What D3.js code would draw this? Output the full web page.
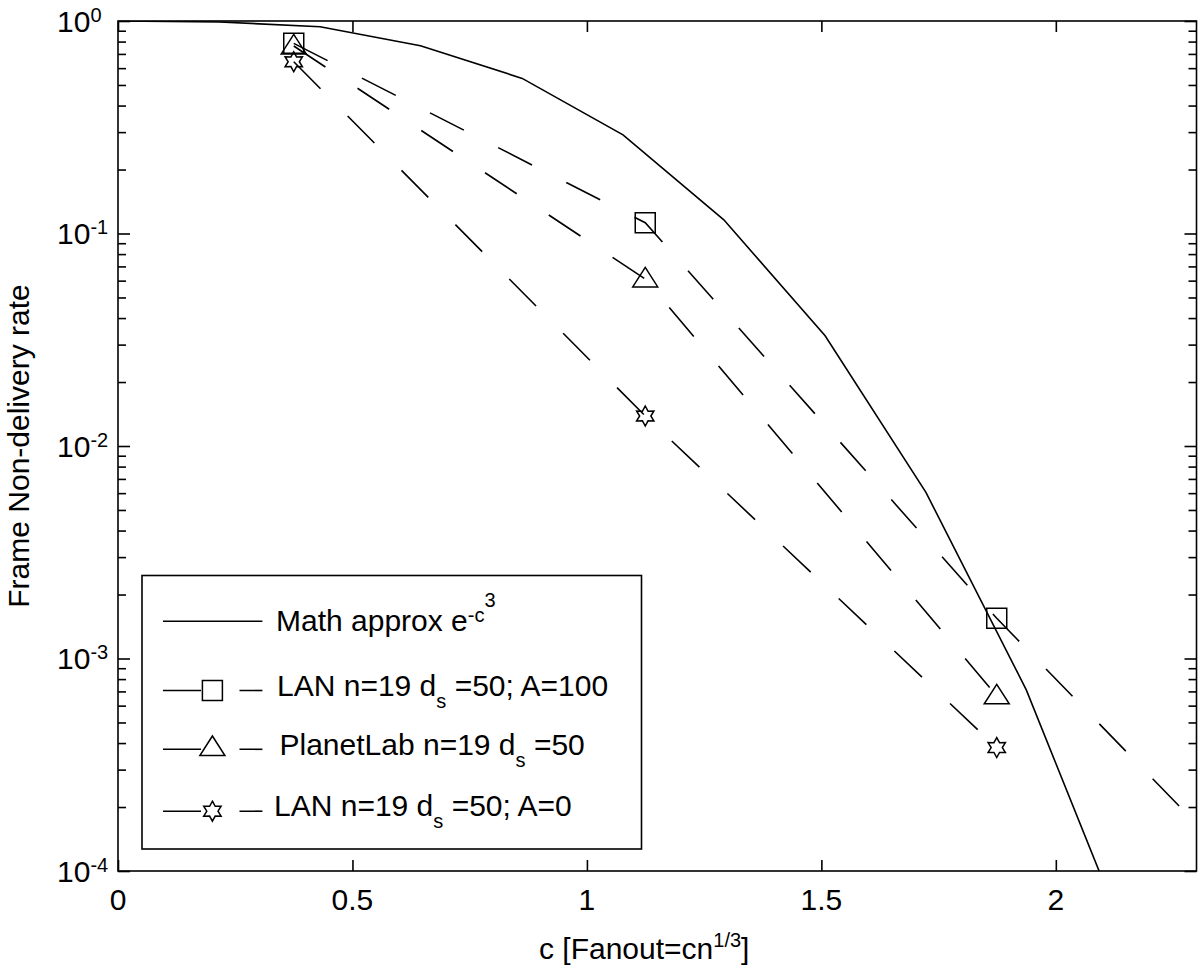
<!DOCTYPE html>
<html><head><meta charset="utf-8">
<script src="https://cdn.jsdelivr.net/npm/d3@7"></script>
<style>
body{margin:0;background:#fff}
svg{display:block}
text{font-family:"Liberation Sans",Arial,Helvetica,sans-serif;fill:#000}
</style>
</head><body>
<svg id="chart" width="1200" height="968"></svg>
<script>
// ---------- data ----------
const mathC = [0, 0.216, 0.431, 0.645, 0.862, 1.077, 1.292, 1.508, 1.723, 1.937, 2.152];
const mathRate = [1, 0.990, 0.940, 0.765, 0.537, 0.291, 0.116, 0.0330, 0.00605, 0.000712, 0.000047];
const fanoutC = [0.3748, 1.1244, 1.874, 2.6236];
const lanA100 = [0.785, 0.1124, 0.001546, 0.0000307];
const planetLab = [0.763, 0.0611, 0.000667];
const lanA0 = [0.643, 0.01384, 0.000381];
const xTickValues = [0, 0.5, 1, 1.5, 2];
const xTickLabels = ["0", "0.5", "1", "1.5", "2"];
const yTickValues = [1, 0.1, 0.01, 0.001, 0.0001];
const yTickExponents = ["0", "-1", "-2", "-3", "-4"];
const legendNames = ["Math approx e", "LAN n=19 d", "PlanetLab n=19 d", "LAN n=19 d"];
const legendTails = ["", " =50; A=100", " =50", " =50; A=0"];

// ---------- setup ----------
const svg = d3.select("#chart");
const W = 1200, H = 968;
const L = 118, R = 1196.5, T = 21, B = 871;
const FS = 30;
const x = d3.scaleLinear().domain([0, 2.3]).range([L, R]);
const y = d3.scaleLog().domain([1e-4, 1]).range([B, T]);

svg.append("rect").attr("width", W).attr("height", H).attr("fill", "#fff");
svg.append("defs").append("clipPath").attr("id", "clip")
  .append("rect").attr("x", L).attr("y", T).attr("width", R - L).attr("height", B - T);

const axisStroke = 1.6;
function styleAxis(g) {
  g.select(".domain").remove();
  g.selectAll("line").attr("stroke", "#000").attr("stroke-width", axisStroke);
  g.selectAll("text").remove();
}
// x ticks bottom & top (inward)
svg.append("g").attr("transform", `translate(0,${B})`)
  .call(d3.axisBottom(x).tickValues(xTickValues).tickSize(-11).tickFormat(""))
  .call(styleAxis);
svg.append("g").attr("transform", `translate(0,${T})`)
  .call(d3.axisTop(x).tickValues(xTickValues).tickSize(-11).tickFormat(""))
  .call(styleAxis);
// y major ticks left & right
svg.append("g").attr("transform", `translate(${L},0)`)
  .call(d3.axisLeft(y).tickValues(yTickValues).tickSize(-12).tickFormat(""))
  .call(styleAxis);
svg.append("g").attr("transform", `translate(${R},0)`)
  .call(d3.axisRight(y).tickValues(yTickValues).tickSize(-12).tickFormat(""))
  .call(styleAxis);
// y minor ticks
const minor = y.ticks().filter(v => !yTickValues.some(m => Math.abs(v - m) / m < 1e-9));
svg.append("g").attr("transform", `translate(${L},0)`)
  .call(d3.axisLeft(y).tickValues(minor).tickSize(-8).tickFormat(""))
  .call(styleAxis);
svg.append("g").attr("transform", `translate(${R},0)`)
  .call(d3.axisRight(y).tickValues(minor).tickSize(-8).tickFormat(""))
  .call(styleAxis);

// box
svg.append("rect").attr("x", L).attr("y", T).attr("width", R - L).attr("height", B - T)
  .attr("fill", "none").attr("stroke", "#000").attr("stroke-width", axisStroke);

// tick labels
svg.append("g").selectAll("text").data(xTickValues).join("text")
  .attr("x", d => x(d)).attr("y", 910).attr("text-anchor", "middle")
  .attr("font-size", FS).text((d, i) => xTickLabels[i]);

yTickValues.forEach((v, i) => {
  const t = svg.append("text").attr("x", 57).attr("y", y(v) + 10.5).attr("font-size", FS);
  t.append("tspan").text("10");
  t.append("tspan").attr("font-size", 20).attr("dy", -10).text(yTickExponents[i]);
});

// axis titles
const xt = svg.append("text").attr("x", 539).attr("y", 959).attr("font-size", FS);
xt.append("tspan").text("c [Fanout=cn");
xt.append("tspan").attr("font-size", 20).attr("dy", -12).text("1/3");
xt.append("tspan").attr("dy", 12).text("]");

svg.append("text").attr("transform", `translate(29,${(T + B) / 2}) rotate(-90)`)
  .attr("text-anchor", "middle").attr("font-size", FS).text("Frame Non-delivery rate");

// ---------- markers ----------
const squarePath = "M-10,-10H10V10H-10Z";
const trianglePath = "M0,-11.5L12.5,8L-12.5,8Z";
function hexagramPath(ro, ri) {
  const pts = [];
  for (let i = 0; i < 12; i++) {
    const a = (-90 + 30 * i) * Math.PI / 180;
    const r = i % 2 === 0 ? ro : ri;
    pts.push([r * Math.cos(a), r * Math.sin(a)]);
  }
  return "M" + pts.map(p => p[0].toFixed(2) + "," + p[1].toFixed(2)).join("L") + "Z";
}
const starPath = hexagramPath(10, 5.6);

// ---------- data layer ----------
const plot = svg.append("g").attr("clip-path", "url(#clip)");
const line = d3.line().x(d => x(d[0])).y(d => y(d[1]));
const dash = "38 38.5";
const lineW = 1.6;

plot.append("path").datum(mathC.map((c, i) => [c, mathRate[i]]))
  .attr("d", line).attr("fill", "none").attr("stroke", "#000").attr("stroke-width", lineW);

const series = [
  {vals: lanA100, sym: squarePath},
  {vals: planetLab, sym: trianglePath},
  {vals: lanA0, sym: starPath}
];
series.forEach(s => {
  const pts = s.vals.map((v, i) => [fanoutC[i], v]);
  plot.append("path").datum(pts).attr("d", line).attr("fill", "none")
    .attr("stroke", "#000").attr("stroke-width", lineW).attr("stroke-dasharray", dash);
  plot.selectAll(null).data(pts).join("path")
    .attr("transform", d => `translate(${x(d[0])},${y(d[1])})`)
    .attr("d", s.sym).attr("fill", "none").attr("stroke", "#000").attr("stroke-width", 1.5);
});

// ---------- legend ----------
const lg = svg.append("g");
lg.append("rect").attr("x", 142).attr("y", 575.5).attr("width", 499.5).attr("height", 273.5)
  .attr("fill", "#fff").attr("stroke", "#000").attr("stroke-width", 1.6);
const rowsY = [621.2, 690.5, 749.3, 811.2];
const textY = [631.3, 696, 755.4, 815.7];
const textX = [276, 277, 279.5, 274];
const markY = [0, 690.5, 747.5, 811.2];
const syms = [null, squarePath, trianglePath, starPath];
rowsY.forEach((ry, i) => {
  const ln = lg.append("line").attr("x1", 163).attr("x2", 262.4).attr("y1", ry).attr("y2", ry)
    .attr("stroke", "#000").attr("stroke-width", lineW);
  if (i > 0) {
    ln.attr("stroke-dasharray", dash);
    lg.append("path").attr("transform", `translate(212.4,${markY[i]})`).attr("d", syms[i])
      .attr("fill", "#fff").attr("stroke", "#000").attr("stroke-width", 1.5);
  }
  const t = lg.append("text").attr("x", textX[i]).attr("y", textY[i]).attr("font-size", FS);
  t.append("tspan").text(legendNames[i]);
  if (i === 0) {
    t.append("tspan").attr("font-size", 20).attr("dy", -9).text("-c");
    t.append("tspan").attr("font-size", 20).attr("dy", -15).text("3");
  } else {
    t.append("tspan").attr("font-size", 20).attr("dy", 12).text("s");
    t.append("tspan").attr("dy", -12).text(legendTails[i]);
  }
});
</script>
</body></html>
